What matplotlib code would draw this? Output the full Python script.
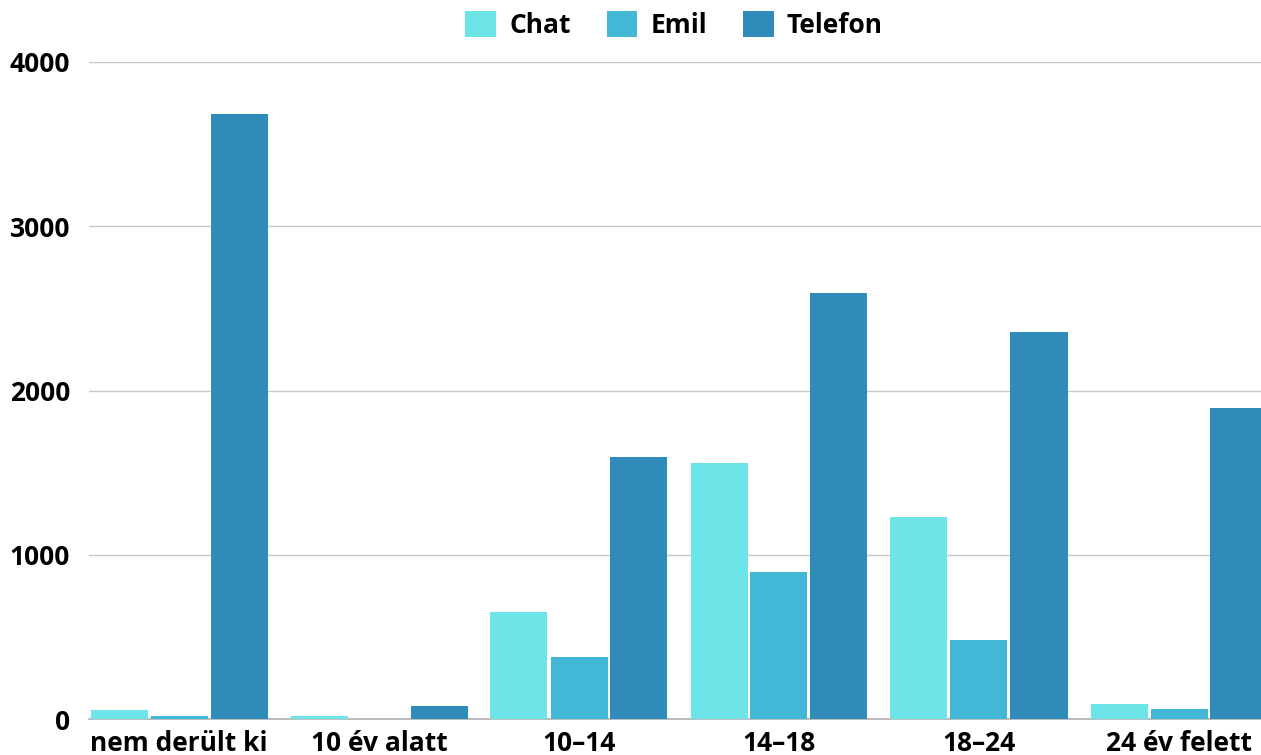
import numpy as np
import matplotlib
matplotlib.use('Agg')
from matplotlib import pyplot as plt
from matplotlib.patches import Patch

plt.rcParams['font.family'] = ['Open Sans', 'DejaVu Sans']
plt.rcParams['font.weight'] = 'bold'

# data
categories = ['nem derült ki', '10 év alatt', '10–14', '14–18', '18–24', '24 év felett']
series = ['Chat', 'Emil', 'Telefon']
chat = [55, 18, 651, 1559, 1230, 91]
emil = [18, 0, 377, 895, 481, 61]
telefon = [3683, 79, 1595, 2594, 2356, 1893]
colors = ['#6de5e8', '#43b8d6', '#2e8bba']

fig = plt.figure(figsize=(12.61, 7.55), dpi=100)
ax = fig.add_axes([89/1261, 36/755, 1 - 89/1261, (719-62)/755])

x = np.arange(len(categories))
offsets = [-0.3, 0.0, 0.3]
width = 0.285
for vals, off, col in zip([chat, emil, telefon], offsets, colors):
    ax.bar(x + off, vals, width, color=col, linewidth=0, zorder=3)

ax.set_xlim(-0.45, 5.41)
ax.set_ylim(0, 4000)
ax.set_yticks([0, 1000, 2000, 3000, 4000])
ax.set_xticks(x)
ax.set_xticklabels(categories)
ax.tick_params(axis='both', length=0, labelsize=19)
ax.tick_params(axis='y', pad=13.7)
ax.tick_params(axis='x', pad=8)
for lab in ax.get_xticklabels() + ax.get_yticklabels():
    lab.set_fontweight('bold')

ax.grid(axis='y', color='#c8c8c8', linewidth=1, zorder=0)
for s in ['top', 'right', 'left']:
    ax.spines[s].set_visible(False)
ax.spines['bottom'].set_color('#b0b0b0')
ax.spines['bottom'].set_linewidth(1.2)
ax.spines['bottom'].set_zorder(2)

handles = [Patch(facecolor=c, edgecolor='none') for c in colors]
fig.legend(handles, series, loc='center', bbox_to_anchor=(674/1261, 1 - 25/755), ncol=3,
           frameon=False, handlelength=1.17, handleheight=1.17,
           handletextpad=0.49, columnspacing=1.36, prop={'weight': 'bold', 'size': 19})

fig.savefig('out.png', dpi=100)
